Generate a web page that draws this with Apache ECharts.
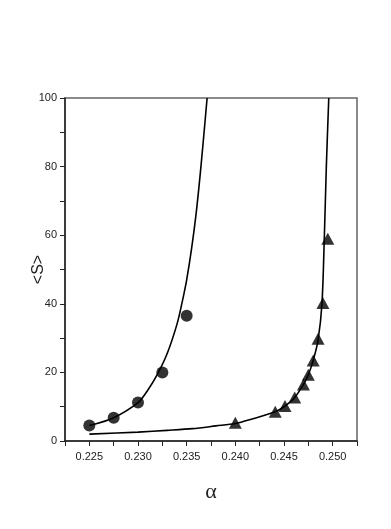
<!DOCTYPE html>
<html>
<head>
<meta charset="utf-8">
<script src="https://cdn.jsdelivr.net/npm/echarts@6/dist/echarts.min.js"></script>
<style>
  html, body { margin: 0; padding: 0; background: #fff; }
  #chart { width: 391px; height: 529px; }
</style>
</head>
<body>
<div id="chart"></div>
<script>
// measured points
var circles = [[0.2250, 4.5], [0.2275, 6.8], [0.2300, 11.2], [0.2325, 20.0], [0.2350, 36.5]];
var triangles = [[0.2400, 5.3], [0.2441, 8.5], [0.2451, 10.2], [0.2461, 12.7], [0.2470, 16.5],
                 [0.2475, 19.3], [0.2480, 23.5], [0.2485, 29.8], [0.2490, 40.2], [0.2495, 59.0]];
// fitted curves
var fit1 = [[0.2250, 4.5], [0.2275, 6.8], [0.2300, 11.2], [0.2310, 14.8], [0.2320, 19.5],
            [0.2330, 25.5], [0.2340, 34.0], [0.2345, 40.0], [0.2350, 47.0], [0.2355, 56.0],
            [0.2360, 67.0], [0.2365, 81.0], [0.2371, 100]];
var fit2 = [[0.2250, 2.0], [0.2300, 2.6], [0.2330, 3.1], [0.2356, 3.6], [0.2380, 4.4],
            [0.2400, 5.1], [0.2418, 6.5], [0.2441, 8.5], [0.2451, 10.2], [0.2461, 12.7],
            [0.2470, 16.5], [0.2475, 19.3], [0.2480, 23.5], [0.2485, 29.4], [0.2489, 40.0],
            [0.24915, 60.0], [0.24935, 80.0], [0.2496, 100]];
var xTicks = [0.225, 0.230, 0.235, 0.240, 0.245, 0.250];
var yTicks = [0, 20, 40, 60, 80, 100];

var chart = echarts.init(document.getElementById('chart'));

chart.setOption({
  animation: false,
  grid: { left: 65, right: 34, top: 98, bottom: 88, show: true, borderColor: '#666', borderWidth: 1.5 },
  xAxis: {
    type: 'value', min: 0.2225, max: 0.2525, interval: 0.0025,
    name: 'α', nameLocation: 'middle', nameGap: 40, nameMoveOverlap: false,
    nameTextStyle: { fontFamily: 'Liberation Serif', fontSize: 22, color: '#222' },
    axisLine: { lineStyle: { color: '#222', width: 1.5 } },
    axisTick: { length: 5, lineStyle: { color: '#222' } },
    axisLabel: {
      margin: 10, fontFamily: 'Liberation Sans', fontSize: 11, color: '#222',
      formatter: function (v) {
        for (var i = 0; i < xTicks.length; i++) {
          if (Math.abs(v - xTicks[i]) < 1e-6) return xTicks[i].toFixed(3);
        }
        return '';
      }
    },
    splitLine: { show: false }
  },
  yAxis: {
    type: 'value', min: 0, max: 100, interval: 10,
    name: '<S>', nameLocation: 'middle', nameGap: 18, nameRotate: 90, nameMoveOverlap: false,
    nameTextStyle: { fontFamily: 'Liberation Sans', fontSize: 16, color: '#222' },
    axisLine: { show: true, lineStyle: { color: '#222', width: 1.5 } },
    axisTick: { length: 5, lineStyle: { color: '#222' } },
    axisLabel: {
      margin: 8, fontFamily: 'Liberation Sans', fontSize: 11, color: '#222',
      formatter: function (v) { return yTicks.indexOf(v) >= 0 ? String(v) : ''; }
    },
    splitLine: { show: false }
  },
  series: [
    { type: 'line', data: fit1, smooth: 0.3, showSymbol: false,
      lineStyle: { color: '#000', width: 1.6 }, z: 2 },
    { type: 'line', data: fit2, smooth: 0.3, showSymbol: false,
      lineStyle: { color: '#000', width: 1.6 }, z: 2 },
    { type: 'scatter', data: circles, symbol: 'circle', symbolSize: 12,
      itemStyle: { color: '#000' }, z: 3 },
    { type: 'scatter', data: triangles, symbol: 'triangle', symbolSize: [13, 12],
      itemStyle: { color: '#000' }, z: 3 }
  ]
});
</script>
</body>
</html>
